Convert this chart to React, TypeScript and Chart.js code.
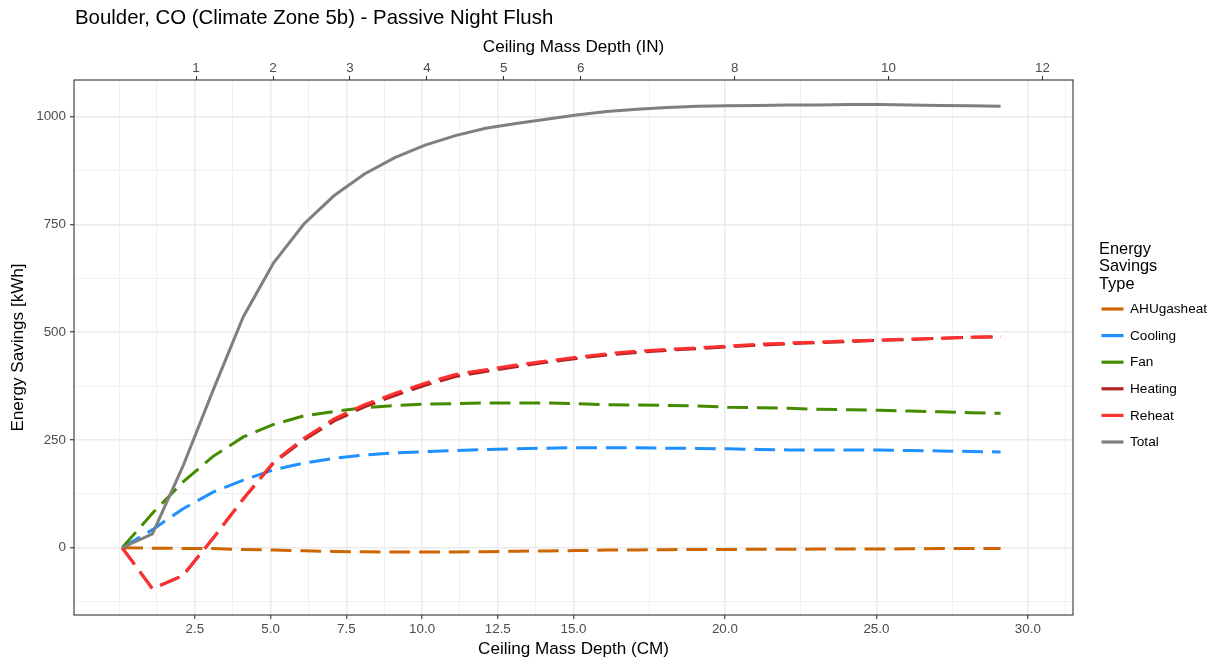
import React, { useEffect, useRef } from "react";
import { Chart, registerables } from "chart.js";

Chart.register(...registerables);

// ---- data ----
const depthCm = [0.1, 1.1, 2.1, 3.1, 4.1, 5.1, 6.1, 7.1, 8.1, 9.1, 10.1, 11.1, 12.1, 13.1, 14.1, 15.1, 16.1, 17.1, 18.1, 19.1, 20.1, 21.1, 22.1, 23.1, 24.1, 25.1, 26.1, 27.1, 28.1, 29.1];
const ahuGasHeat = [0, -1, -1.5, -2, -4, -5.5, -7, -8.5, -9.5, -10, -10, -10, -9, -8, -7.5, -6.5, -5.5, -5, -4.5, -4, -4, -3.5, -3.5, -3, -3, -3, -2.5, -2, -2, -2];
const cooling = [0, 42, 90, 129, 157, 181, 196.5, 207.5, 215, 220, 223, 225.5, 228, 229.5, 231, 232, 232, 232, 231, 230.5, 229.5, 228, 227, 226.7, 226.7, 226.5, 225.5, 224.5, 223.5, 222];
const fan = [0, 80, 152, 212, 257, 286, 306, 316, 325, 330, 333, 334.5, 336, 336, 336, 334, 332, 331, 330, 329, 326, 325, 323.5, 321, 320, 319, 317, 315.5, 313, 312];
const heating = [0, -95, -65, 22, 113, 197, 250, 294, 327, 353, 377, 397, 409, 420, 430, 439, 447, 453, 458, 462, 466, 470, 473, 476, 478, 481, 483, 486, 488, 489];
const reheat = [0, -95, -65, 22, 114, 199, 254, 299, 332, 358, 382, 402, 413, 424, 433, 442, 450, 456, 460, 464, 468, 472, 475, 477, 480, 482, 484, 486, 488, 490];
const total = [0, 32, 188, 365, 536, 661, 751, 817, 867, 905, 934, 956, 973, 984, 994, 1004, 1012, 1017, 1021, 1024, 1025, 1026, 1027, 1027, 1028, 1028, 1027, 1026, 1025, 1024];

const seriesNames = ["AHUgasheat", "Cooling", "Fan", "Heating", "Reheat", "Total"];
const seriesValues = [ahuGasHeat, cooling, fan, heating, reheat, total];
const seriesColors = ["#CD6600", "#1E90FF", "#458B00", "#B22222", "#FF3030", "#7F7F7F"];
const seriesDashed = [true, true, true, true, true, false];

const cmBreaks = [2.5, 5, 7.5, 10, 12.5, 15, 20, 25, 30];
const cmLabels = ["2.5", "5.0", "7.5", "10.0", "12.5", "15.0", "20.0", "25.0", "30.0"];
const cmMinorBreaks = [0, 1.25, 3.75, 6.25, 8.75, 11.25, 13.75, 17.5, 22.5, 27.5, 31.25];
const inBreaks = [1, 2, 3, 4, 5, 6, 8, 10, 12];
const inLabels = ["1", "2", "3", "4", "5", "6", "8", "10", "12"];
const yBreaks = [0, 250, 500, 750, 1000];
const yLabels = ["0", "250", "500", "750", "1000"];
const yMinorBreaks = [-125, 125, 375, 625, 875];

const titleText = "Boulder, CO (Climate Zone 5b) - Passive Night Flush";
const legendTitle = ["Energy", "Savings", "Type"];

const FONT = "'Liberation Sans', Arial, Helvetica, sans-serif";
const CM_PER_IN = 2.54;
const AXIS_TEXT = 13.4;
const AXIS_TITLE = 17.1;

const overlayPlugin = {
  id: "ggOverlay",
  afterDraw(chart: any) {
    const ctx = chart.ctx;
    const a = chart.chartArea;
    ctx.save();
    // panel border
    ctx.strokeStyle = "#333333";
    ctx.lineWidth = 1.1;
    ctx.strokeRect(a.left, a.top, a.right - a.left, a.bottom - a.top);
    // title
    ctx.fillStyle = "#000000";
    ctx.font = `20.4px ${FONT}`;
    ctx.textAlign = "left";
    ctx.textBaseline = "alphabetic";
    ctx.fillText(titleText, 75, 24);
    // legend title
    ctx.font = `16.4px ${FONT}`;
    legendTitle.forEach((t, i) => ctx.fillText(t, 1099, 253.5 + i * 17.5));
    // legend keys
    ctx.font = `13.6px ${FONT}`;
    ctx.textBaseline = "middle";
    seriesNames.forEach((name, i) => {
      const y = 309 + i * 26.6;
      ctx.strokeStyle = seriesColors[i];
      ctx.lineWidth = 3.2;
      ctx.lineCap = "butt";
      ctx.beginPath();
      ctx.moveTo(1101.5, y);
      ctx.lineTo(1123.5, y);
      ctx.stroke();
      ctx.fillStyle = "#000000";
      ctx.fillText(name, 1130, y + 0.5);
    });
    ctx.restore();
  },
};

export default function App() {
  const canvasRef = useRef<HTMLCanvasElement | null>(null);

  useEffect(() => {
    if (!canvasRef.current) return;
    const datasets = seriesNames.map((name, i) => ({
      label: name,
      data: depthCm.map((x, j) => ({ x, y: seriesValues[i][j] })),
      borderColor: seriesColors[i],
      backgroundColor: seriesColors[i],
      borderWidth: 3,
      borderDash: seriesDashed[i] ? [20.8, 8.9] : [],
      pointRadius: 0,
      tension: 0,
      fill: false,
      order: seriesNames.length - i,
      xAxisID: "x",
      yAxisID: "y",
    }));

    const isMajorX = (v: number) => cmBreaks.indexOf(v) >= 0;
    const isMajorY = (v: number) => yBreaks.indexOf(v) >= 0;

    const chart = new Chart(canvasRef.current, {
      type: "line",
      data: { datasets },
      plugins: [overlayPlugin],
      options: {
        animation: false,
        responsive: false,
        devicePixelRatio: 1,
        layout: { padding: { left: 0, right: 144, top: 30, bottom: 0 } },
        plugins: {
          legend: { display: false },
          title: { display: false },
          tooltip: { enabled: false },
        },
        scales: {
          x: {
            type: "linear",
            position: "bottom",
            min: -1.49,
            max: 31.49,
            afterBuildTicks: (s: any) => {
              s.ticks = [...cmMinorBreaks, ...cmBreaks].sort((p, q) => p - q).map((v) => ({ value: v }));
            },
            afterFit: (s: any) => {
              s.height = 50;
            },
            ticks: {
              autoSkip: false,
              maxRotation: 0,
              minRotation: 0,
              padding: 2,
              color: "#4D4D4D",
              font: { size: AXIS_TEXT, family: FONT },
              callback: (v: any) => {
                const k = cmBreaks.indexOf(v);
                return k >= 0 ? cmLabels[k] : "";
              },
            },
            grid: {
              color: "#EBEBEB",
              lineWidth: (c: any) => (c.tick && isMajorX(c.tick.value) ? 1.5 : 0.75),
              tickColor: (c: any) => (c.tick && isMajorX(c.tick.value) ? "#333333" : "rgba(0,0,0,0)"),
              tickLength: 4,
              tickWidth: 1.1,
            },
            border: { display: false },
            title: {
              display: true,
              text: "Ceiling Mass Depth (CM)",
              color: "#000000",
              font: { size: AXIS_TITLE, family: FONT },
              padding: { top: 0, bottom: 5.7 },
            },
          },
          x2: {
            type: "linear",
            position: "top",
            min: -1.49,
            max: 31.49,
            afterBuildTicks: (s: any) => {
              s.ticks = inBreaks.map((v) => ({ value: v * CM_PER_IN }));
            },
            afterFit: (s: any) => {
              s.height = 50;
            },
            ticks: {
              autoSkip: false,
              maxRotation: 0,
              minRotation: 0,
              padding: 0,
              color: "#4D4D4D",
              font: { size: AXIS_TEXT, family: FONT },
              callback: (_v: any, i: number) => inLabels[i],
            },
            grid: {
              drawOnChartArea: false,
              tickColor: "#333333",
              tickLength: 4,
              tickWidth: 1.1,
            },
            border: { display: false },
            title: {
              display: true,
              text: "Ceiling Mass Depth (IN)",
              color: "#000000",
              font: { size: AXIS_TITLE, family: FONT },
              padding: { top: 6.7, bottom: 0 },
            },
          },
          y: {
            type: "linear",
            position: "left",
            min: -156,
            max: 1085,
            afterBuildTicks: (s: any) => {
              s.ticks = [...yMinorBreaks, ...yBreaks].sort((p, q) => p - q).map((v) => ({ value: v }));
            },
            afterFit: (s: any) => {
              s.width = 74;
            },
            ticks: {
              autoSkip: false,
              padding: 4,
              color: "#4D4D4D",
              font: { size: AXIS_TEXT, family: FONT },
              callback: (v: any) => {
                const k = yBreaks.indexOf(v);
                return k >= 0 ? yLabels[k] : "";
              },
            },
            grid: {
              color: "#EBEBEB",
              lineWidth: (c: any) => (c.tick && isMajorY(c.tick.value) ? 1.5 : 0.75),
              tickColor: (c: any) => (c.tick && isMajorY(c.tick.value) ? "#333333" : "rgba(0,0,0,0)"),
              tickLength: 4,
              tickWidth: 1.1,
            },
            border: { display: false },
            title: {
              display: true,
              text: "Energy Savings [kWh]",
              color: "#000000",
              font: { size: AXIS_TITLE, family: FONT },
              padding: { top: 7.7, bottom: 0 },
            },
          },
        },
      } as any,
    });
    return () => chart.destroy();
  }, []);

  return (
    <div style={{ position: "fixed", left: 0, top: 0, width: 1217, height: 665, background: "#FFFFFF" }}>
      <canvas ref={canvasRef} width={1217} height={665} style={{ display: "block" }} />
    </div>
  );
}
